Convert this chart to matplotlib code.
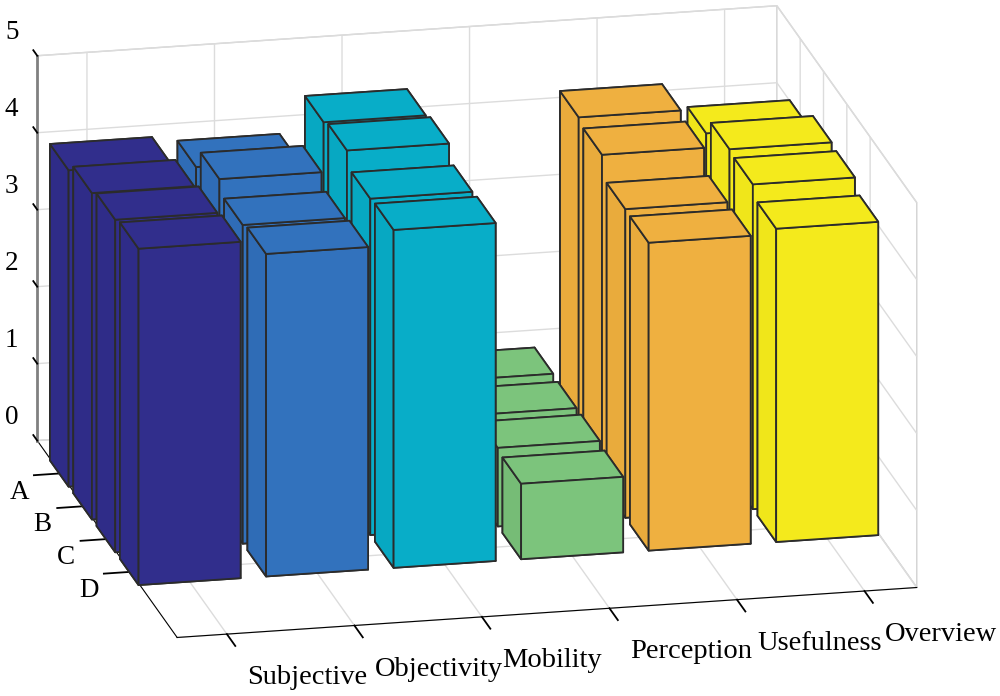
import matplotlib
matplotlib.use("Agg")
import matplotlib.pyplot as plt
from matplotlib.transforms import Affine2D

plt.rcParams['font.family'] = ['Liberation Serif', 'DejaVu Sans']

categories = ["Subjective", "Objectivity", "Mobility", "Perception", "Usefulness", "Overview"]
groups = ["A", "B", "C", "D"]
# values for A B C D in each category
subjective = [4.11, 4.24, 4.32, 4.37]
objectivity = [4.04, 4.31, 4.14, 4.19]
mobility_vals = [4.51, 4.57, 4.37, 4.39]
perception_vals = [1.04, 1.02, 1.02, 0.98]
usefulness_vals = [4.35, 4.29, 4.01, 4.00]
overview_vals = [4.03, 4.25, 4.22, 4.07]
values = [subjective, objectivity, mobility_vals, perception_vals, usefulness_vals, overview_vals]
colors = ["#312e8c", "#3272bd", "#08adc8", "#7cc47c", "#efb040", "#f4ea1c"]
side_colors = ["#2f2c88", "#2f6cb6", "#07a8c2", "#76bc76", "#e9ab3c", "#f0e61a"]

fig = plt.figure(figsize=(10, 6.96), dpi=100)
ax = fig.add_axes([-0.0324, 0.0244, 1, 1], projection='3d')
ax.set_proj_type('ortho')
ax.view_init(elev=17.96, azim=-102.36)

for i, col in enumerate(values):
	for j, v in enumerate(col):
		c = colors[i]
		s = side_colors[i]
		ax.bar3d(i + 1 - 0.4, j + 1 - 0.4, 0, 0.8, 0.8, v, color=[c, c, c, c, s, s],
			edgecolor='#2b2b2b', linewidth=1.3, shade=False, clip_on=False)

ax.set_xlim(0.61, 6.41)
ax.set_ylim(6.0, 0.0)
ax.set_zlim(0, 5)
ax.set_box_aspect((757.6, 654, 404.8), zoom=1.505)

ax.set_xticks(range(1, 7))
ax.set_xticklabels(categories, fontsize=20.5, ha='left', va='center')
ax.set_yticks(range(1, 5))
ax.set_yticklabels(groups, fontsize=19.5, va='center')
ax.set_zticks(range(0, 6))
ax.set_zticklabels(["0", "1", "2", "3", "4", "5"], fontsize=19.5, va='center')
ax.tick_params(axis='x', pad=8)
ax.tick_params(axis='y', pad=2)
ax.tick_params(axis='z', pad=-4)

# z ticks run along the y direction in the original
ax.zaxis._get_tickdir = lambda pos: 1

# pixel nudges for the tick labels, axis3d resets set_transform so override the getter
def nudge(lab, dx, dy):
	lab.get_transform = lambda: ax.transData + Affine2D().translate(dx, dy)

for axis, dx, dy in ((ax.xaxis, 12, -8), (ax.yaxis, -13, -2), (ax.zaxis, -12, 21)):
	for lab in axis.get_ticklabels():
		nudge(lab, dx, dy)

# inverted y flips the tick sign, so the x and y ticks point out through inward_factor
for axis, out, inw in ((ax.xaxis, 0, 0.75), (ax.yaxis, 0, 0.45), (ax.zaxis, 0.35, 0)):
	axis.set_pane_color((1, 1, 1, 1))
	axis.pane.set_edgecolor('#d2d2d2')
	axis._axinfo['grid']['color'] = '#dcdcdc'
	axis._axinfo['grid']['linewidth'] = 1.0
	axis._axinfo['axisline']['color'] = '#333333'
	axis._axinfo['axisline']['linewidth'] = 1.3
	axis._axinfo['tick']['color'] = '#333333'
	axis._axinfo['tick']['linewidth'] = {True: 1.3, False: 1.0}
	axis._axinfo['tick']['outward_factor'] = out
	axis._axinfo['tick']['inward_factor'] = inw
ax.zaxis.line.set_color('#808080')
ax.zaxis.line.set_linewidth(2.0)

fig.savefig("out.png", dpi=100)
